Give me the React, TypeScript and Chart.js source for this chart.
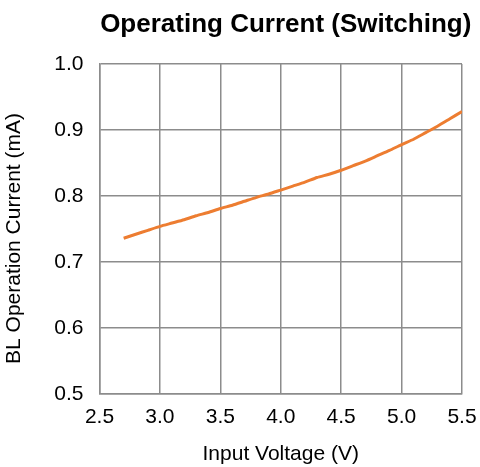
import React, { useEffect, useRef } from 'react';
import { Chart, registerables } from 'chart.js';

Chart.register(...registerables);

const chartTitle = 'Operating Current (Switching)';
const xAxisTitle = 'Input Voltage (V)';
const yAxisTitle = 'BL Operation Current (mA)';

const voltages = [2.7, 2.8, 2.9, 3.0, 3.1, 3.2, 3.3, 3.4, 3.5, 3.6, 3.7, 3.8, 3.9, 4.0, 4.1, 4.2, 4.3, 4.4, 4.5, 4.6, 4.7, 4.8, 4.9, 5.0, 5.1, 5.2, 5.3, 5.4, 5.5];
const currents = [0.736, 0.742, 0.748, 0.754, 0.759, 0.764, 0.770, 0.775, 0.781, 0.786, 0.792, 0.798, 0.803, 0.809, 0.815, 0.821, 0.828, 0.833, 0.839, 0.846, 0.853, 0.861, 0.869, 0.878, 0.886, 0.896, 0.906, 0.917, 0.928];

const xTicks = [2.5, 3.0, 3.5, 4.0, 4.5, 5.0, 5.5];
const yTicks = [0.5, 0.6, 0.7, 0.8, 0.9, 1.0];

const FONT = '"Liberation Sans", Arial, Helvetica, sans-serif';
const GRID = '#8c8c8c';

const titlesPlugin = {
  id: 'customTitles',
  afterDraw(chart: any) {
    const { ctx, chartArea } = chart;
    const cx = (chartArea.left + chartArea.right) / 2;
    const cy = (chartArea.top + chartArea.bottom) / 2;
    ctx.save();
    ctx.fillStyle = '#000';
    ctx.textAlign = 'center';
    ctx.textBaseline = 'alphabetic';
    ctx.font = `bold 26px ${FONT}`;
    ctx.fillText(chartTitle, cx + 5, chartArea.top - 32);
    ctx.font = `21px ${FONT}`;
    ctx.fillText(xAxisTitle, cx, chartArea.bottom + 66);
    ctx.translate(chartArea.left - 79.5, cy + 9.5);
    ctx.rotate(-Math.PI / 2);
    ctx.fillText(yAxisTitle, 0, 0);
    ctx.restore();
  },
};

export default function App() {
  const ref = useRef<HTMLCanvasElement | null>(null);

  useEffect(() => {
    document.body.style.margin = '0';
    const canvas = ref.current;
    if (!canvas) return;
    const chart = new Chart(canvas, {
      type: 'line',
      data: {
        datasets: [
          {
            data: voltages.map((v, i) => ({ x: v, y: currents[i] })),
            borderColor: '#ED7D31',
            backgroundColor: '#ED7D31',
            borderWidth: 3,
            pointRadius: 0,
            tension: 0.2,
            fill: false,
          },
        ],
      },
      options: {
        responsive: false,
        animation: false,
        devicePixelRatio: 1,
        layout: { padding: { top: 64, right: 18, left: 0, bottom: 0 } },
        plugins: {
          legend: { display: false },
          title: { display: false },
          tooltip: { enabled: false },
        },
        scales: {
          x: {
            type: 'linear',
            min: 2.5,
            max: 5.5,
            afterBuildTicks: (scale: any) => {
              scale.ticks = xTicks.map((v) => ({ value: v }));
            },
            afterFit: (scale: any) => {
              scale.height = 73;
              scale.paddingLeft = 0;
              scale.paddingRight = 0;
            },
            ticks: {
              padding: 11,
              color: '#000',
              font: { family: FONT, size: 21 },
              maxRotation: 0,
              callback: (v: any) => Number(v).toFixed(1),
            },
            grid: { color: GRID, lineWidth: 1.5, drawTicks: false },
            border: { color: GRID, width: 1.5 },
          },
          y: {
            type: 'linear',
            min: 0.5,
            max: 1.0,
            afterBuildTicks: (scale: any) => {
              scale.ticks = yTicks.map((v) => ({ value: v }));
            },
            afterFit: (scale: any) => {
              scale.width = 99.5;
              scale.paddingTop = 0;
              scale.paddingBottom = 0;
            },
            ticks: {
              padding: 16,
              color: '#000',
              font: { family: FONT, size: 21 },
              callback: (v: any) => Number(v).toFixed(1),
            },
            grid: { color: GRID, lineWidth: 1.5, drawTicks: false },
            border: { color: GRID, width: 1.5 },
          },
        },
      },
      plugins: [titlesPlugin],
    });
    return () => chart.destroy();
  }, []);

  return (
    <div style={{ width: 480, height: 467 }}>
      <canvas ref={ref} width={480} height={467} style={{ display: 'block' }} />
    </div>
  );
}
